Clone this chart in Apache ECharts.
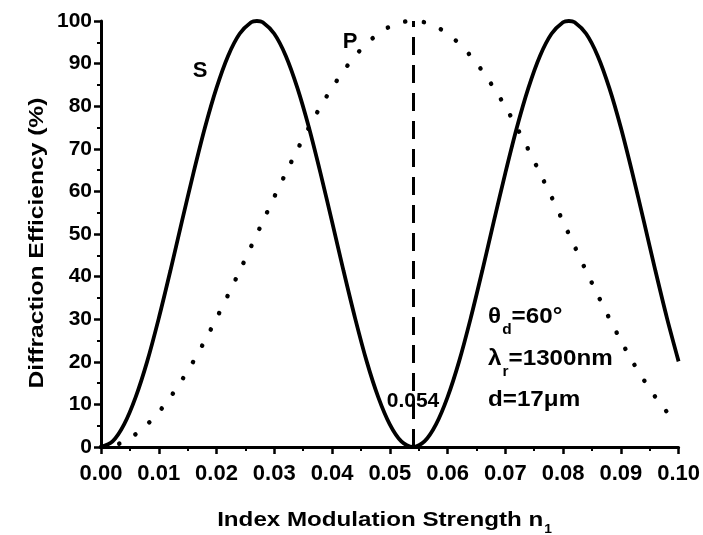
<!DOCTYPE html>
<html><head><meta charset="utf-8">
<script src="https://cdn.jsdelivr.net/npm/echarts@6/dist/echarts.min.js"></script>
<style>html,body{margin:0;padding:0;background:#fff}#c{width:703px;height:535px}</style>
</head><body><div id="c"></div>
<script>
// S-polarisation curve
const sN = [0,0.002,0.004,0.006,0.008,0.010,0.012,0.014,0.016,0.018,0.020,0.022,0.024,0.026,0.027,0.028,0.030,0.032,0.034,0.036,0.038,0.040,0.042,0.044,0.046,0.048,0.050,0.052,0.054,0.056,0.058,0.060,0.062,0.064,0.066,0.068,0.070,0.072,0.074,0.076,0.078,0.080,0.081,0.082,0.084,0.086,0.088,0.090,0.092,0.094,0.096,0.098,0.100];
const sEff = [0,1.3,5.3,11.7,20.1,30.2,41.3,52.9,64.3,75.0,84.3,91.8,97.0,99.7,100,99.7,97.0,91.8,84.3,75.0,64.3,52.9,41.3,30.2,20.1,11.7,5.3,1.3,0,1.3,5.3,11.7,20.1,30.2,41.3,52.9,64.3,75.0,84.3,91.8,97.0,99.7,100,99.7,97.0,91.8,84.3,75.0,64.3,52.9,41.3,30.2,20.1];
// P-polarisation curve
const pN = [0,0.002,0.004,0.006,0.008,0.010,0.012,0.014,0.016,0.018,0.020,0.022,0.024,0.026,0.028,0.030,0.032,0.034,0.036,0.038,0.040,0.042,0.044,0.046,0.048,0.050,0.052,0.054,0.056,0.058,0.060,0.062,0.064,0.066,0.068,0.070,0.072,0.074,0.076,0.078,0.080,0.082,0.084,0.086,0.088,0.090,0.092,0.094,0.096,0.098,0.100];
const pEff = [0,0.3,1.3,3.0,5.3,8.2,11.7,15.7,20.1,25.0,30.2,35.7,41.3,47.1,52.9,58.7,64.3,69.8,75.0,79.9,84.3,88.3,91.8,94.7,97.0,98.7,99.7,100,99.7,98.7,97.0,94.7,91.8,88.3,84.3,79.9,75.0,69.8,64.3,58.7,52.9,47.1,41.3,35.7,30.2,25.0,20.1,15.7,11.7,8.2,5.3];
const markN = [0.054];
const markRange = [0, 100];
const xRange = [0, 0.1, 0.01];
const yRange = [0, 100, 10];
const markLabel = '0.054';

const FONT = '"Liberation Sans", Arial, Helvetica, sans-serif';
const chart = echarts.init(document.getElementById('c'), null, {renderer: 'canvas'});
const mctx = document.createElement('canvas').getContext('2d');
function tw(t, size) { mctx.font = 'bold ' + size + 'px ' + FONT; return mctx.measureText(t).width; }
function txt(x, y, t, size, align, extra) {
  return Object.assign({type: 'text', x: x, y: y, z: 100,
    style: {text: t, fill: '#000', font: 'bold ' + size + 'px ' + FONT, align: align || 'left', verticalAlign: 'middle'}}, extra || {});
}

const graphics = [];
graphics.push(txt(200, 71, 'S', 22, 'center'));
graphics.push(txt(350, 42, 'P', 22, 'center'));
graphics.push(txt(413, 401, markLabel, 21, 'center'));
// annotation block (slightly stretched horizontally like the original lettering)
const ax = 488, fs = 22, sfs = 14, sx = 1.1;
function line(y, main, sub, rest) {
  const g = {type: 'group', x: ax, y: y, scaleX: sx, z: 100, children: []};
  const w1 = tw(main, fs), w2 = sub ? tw(sub, sfs) : 0;
  g.children.push(txt(0, 0, main, fs));
  if (sub) g.children.push(txt(w1 + 1, 13, sub, sfs));
  if (rest) g.children.push(txt(w1 + w2 + 1, 0, rest, fs));
  return g;
}
graphics.push(line(317, 'θ', 'd', '=60°'));
graphics.push(line(359, 'λ', 'r', '=1300nm'));
graphics.push(line(400, 'd=17μm'));
// axis titles
const xt = 'Index Modulation Strength n', xfs = 21, xsx = 1.15;
const xw = (tw(xt, xfs) + tw('1', 12)) * xsx;
graphics.push({type: 'group', x: 384 - xw / 2, y: 520, scaleX: xsx, z: 100, children: [
  txt(0, 0, xt, xfs), txt(tw(xt, xfs) + 1, 10, '1', 12)
]});
graphics.push(txt(37, 243, 'Diffraction Efficiency (%)', 21, 'center', {rotation: Math.PI / 2, scaleX: 1.17}));

const axisCommon = {
  axisLine: {show: true, onZero: false, lineStyle: {color: '#000', width: 3}},
  axisTick: {show: true, inside: false, length: 7, lineStyle: {color: '#000', width: 2.5}},
  minorTick: {show: true, splitNumber: 2, length: 4, lineStyle: {color: '#000', width: 2}},
  splitLine: {show: false},
  minorSplitLine: {show: false}
};

chart.setOption({
  animation: false,
  backgroundColor: '#fff',
  grid: {left: 101, right: 24, top: 21, bottom: 88, containLabel: false},
  xAxis: Object.assign({
    type: 'value', min: xRange[0], max: xRange[1], interval: xRange[2],
    axisLabel: {color: '#000', fontSize: 22, fontWeight: 'bold', fontFamily: FONT, margin: 16,
      formatter: v => v.toFixed(2)}
  }, axisCommon),
  yAxis: Object.assign({
    type: 'value', min: yRange[0], max: yRange[1], interval: yRange[2],
    axisLabel: {color: '#000', fontSize: 21, fontWeight: 'bold', fontFamily: FONT, margin: 9}
  }, axisCommon),
  series: [
    {
      name: 'S', type: 'line', data: sN.map((n, i) => [n, sEff[i]]),
      showSymbol: false, smooth: 0.3, clip: false,
      lineStyle: {color: '#000', width: 3.8}
    },
    {
      name: 'P', type: 'line', data: pN.map((n, i) => [n, pEff[i]]),
      showSymbol: false, smooth: 0.3, clip: false,
      lineStyle: {color: '#000', width: 4.5, type: [0.1, 18.5], cap: 'round'},
      markLine: {
        silent: true, symbol: 'none', label: {show: false},
        lineStyle: {color: '#000', width: 3, type: [18, 10]},
        data: [[{coord: [markN[0], markRange[0]]}, {coord: [markN[0], markRange[1]]}]]
      }
    }
  ],
  graphic: graphics
});
</script></body></html>
